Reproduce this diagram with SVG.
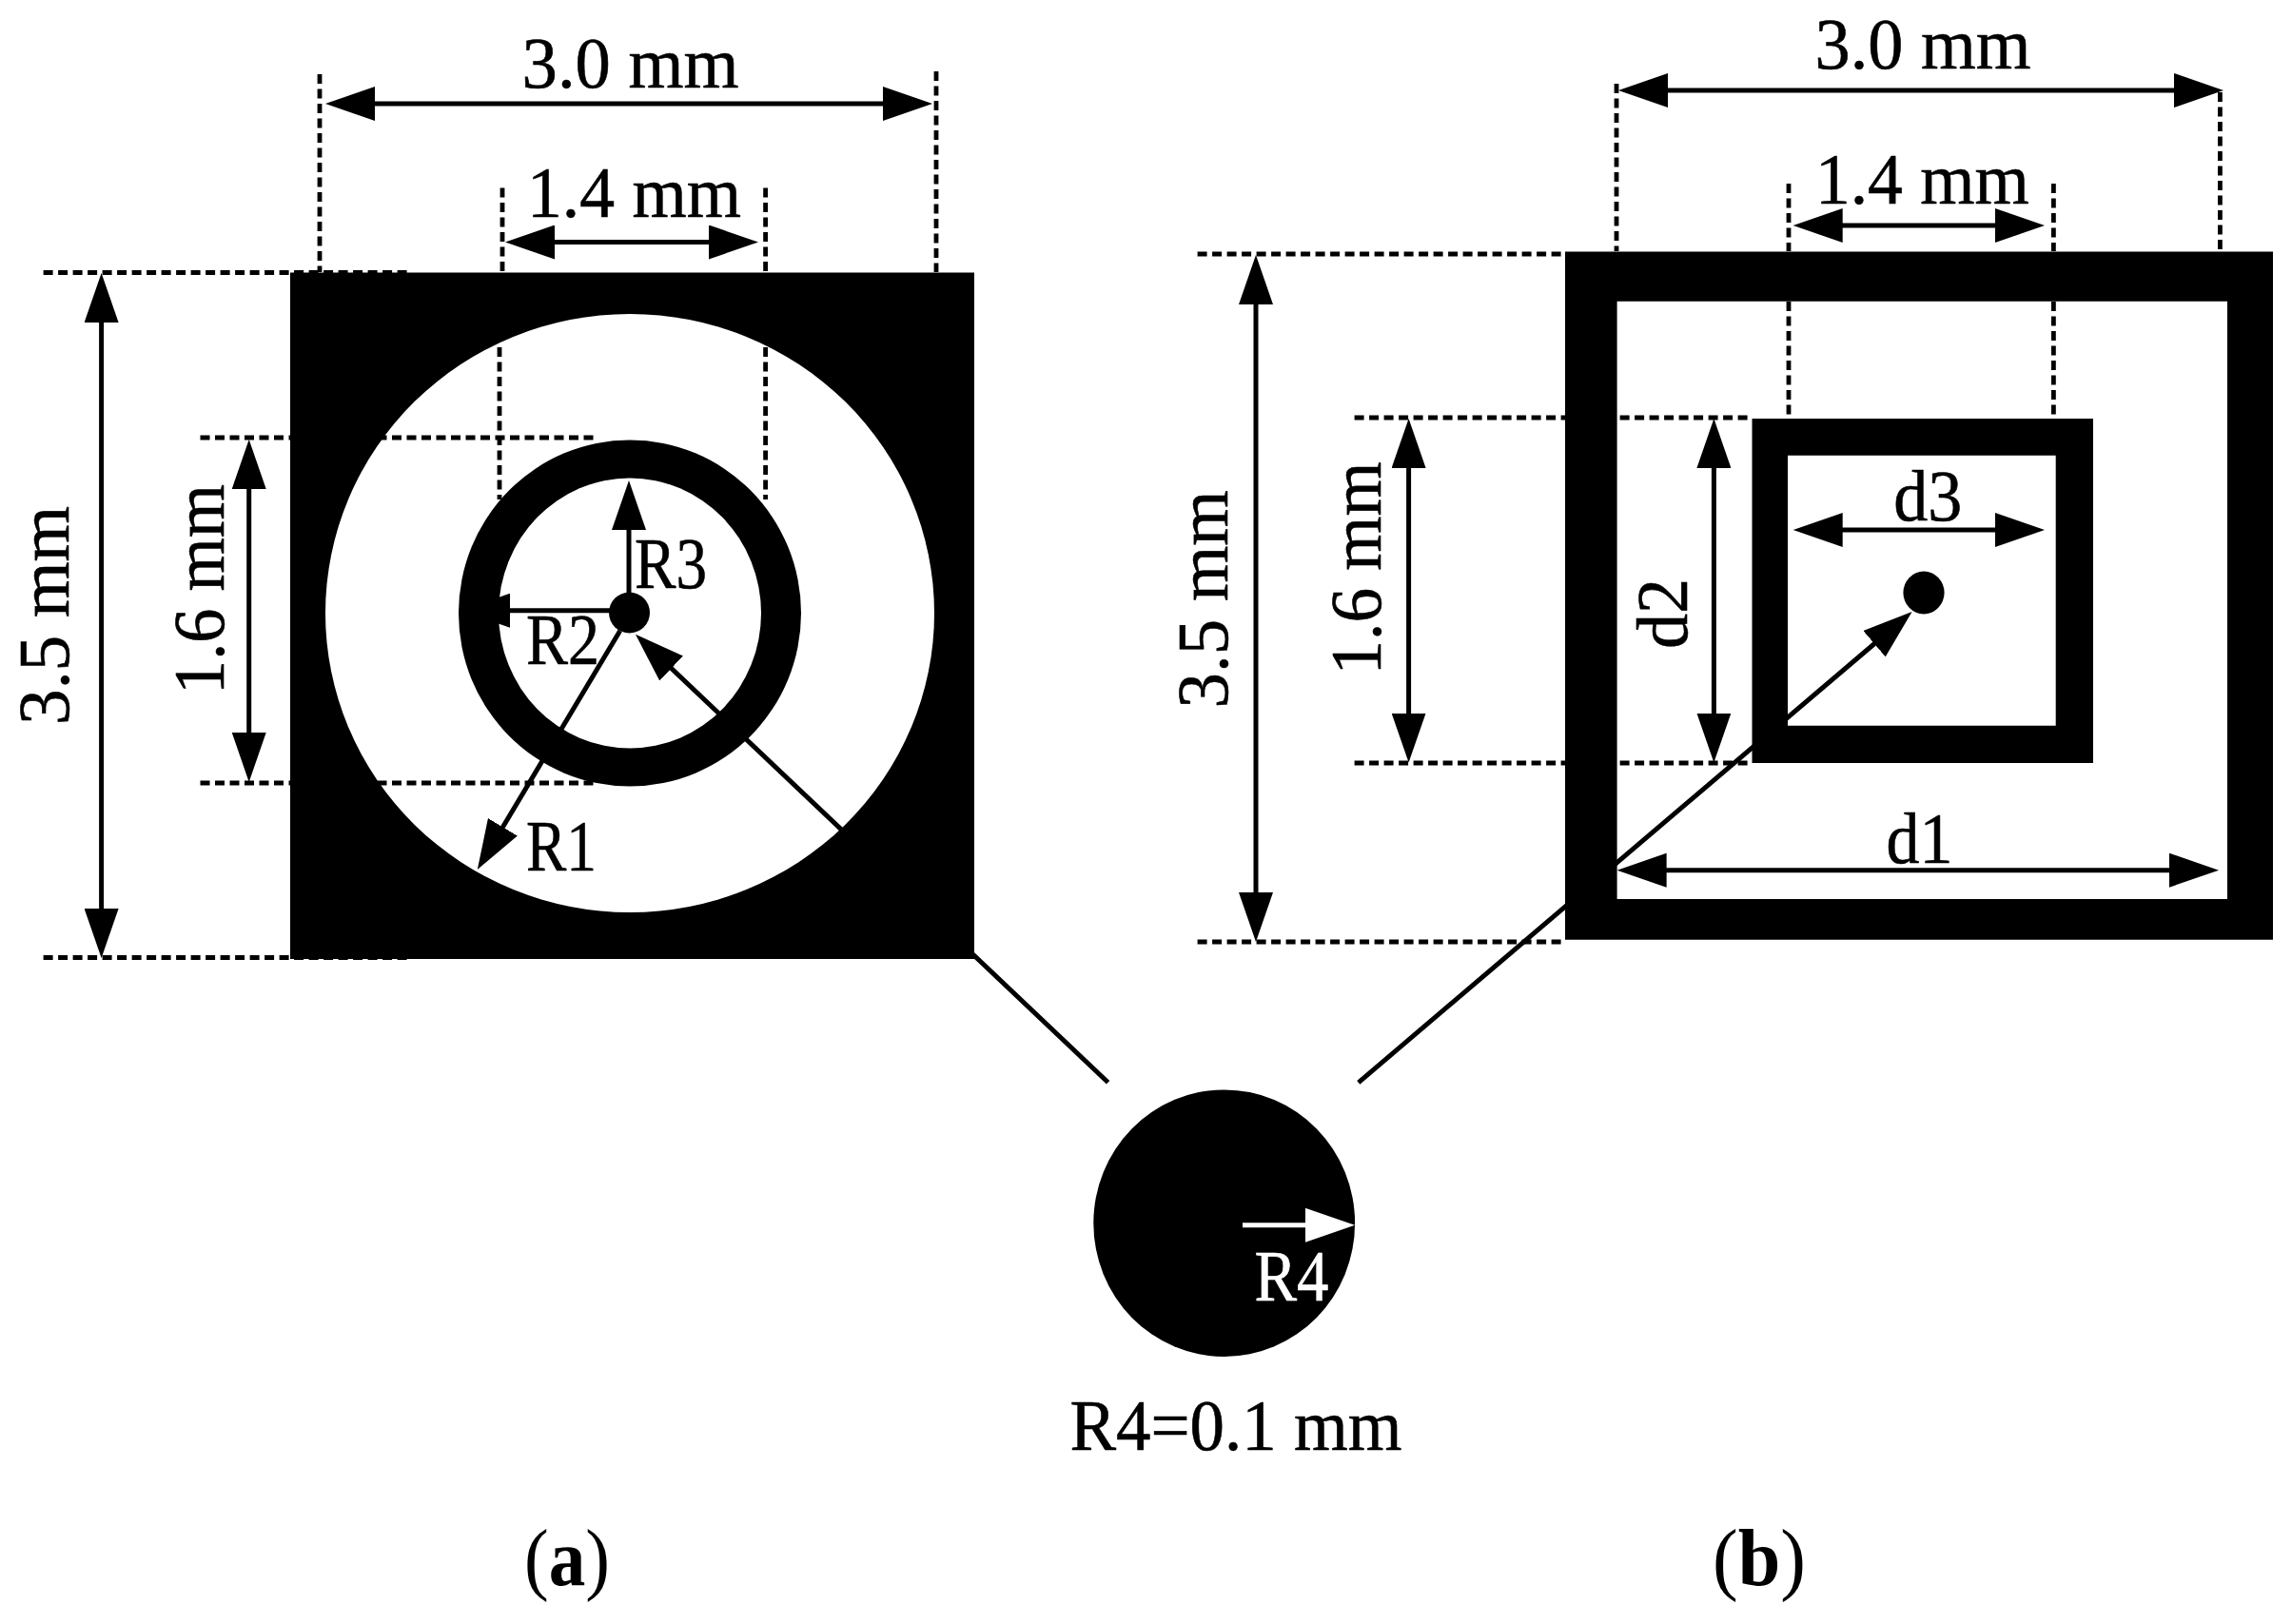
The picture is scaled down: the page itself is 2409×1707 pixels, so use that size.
<svg xmlns="http://www.w3.org/2000/svg" width="2409" height="1707" viewBox="0 0 2409 1707">
<style>
text{font-family:"Liberation Serif","Times New Roman",serif;font-size:76px;fill:#000;stroke:#000;stroke-width:.6}
.m{text-anchor:middle}
.w{fill:#fff;stroke:#fff}
.b{font-weight:bold}
.cap{font-size:84px;stroke-width:0}
.dim{stroke:#000;stroke-width:5;fill:none;marker-start:url(#hs);marker-end:url(#he)}
.one{stroke:#000;stroke-width:5;fill:none;marker-end:url(#he)}
.dash{stroke:#000;stroke-width:4.8;fill:none;stroke-dasharray:10 5.5}
.plain{stroke:#000;stroke-width:5;fill:none;stroke-linecap:round}
</style>
<defs>
<marker id="he" markerUnits="userSpaceOnUse" markerWidth="54" markerHeight="36" refX="42" refY="18" orient="auto"><path d="M0,0L52,18L0,36z" fill="#000"/></marker>
<marker id="hs" markerUnits="userSpaceOnUse" markerWidth="54" markerHeight="36" refX="42" refY="18" orient="auto-start-reverse"><path d="M0,0L52,18L0,36z" fill="#000"/></marker>
<marker id="hw" markerUnits="userSpaceOnUse" markerWidth="54" markerHeight="36" refX="42" refY="18" orient="auto"><path d="M0,0L52,18L0,36z" fill="#fff"/></marker>
</defs>
<rect width="2409" height="1707" fill="#fff"/>

<g id="node-a-plate">
<rect x="305" y="286.5" width="719" height="721.5" fill="#000"/>
<ellipse cx="662" cy="644.5" rx="320" ry="314.5" fill="#fff"/>
</g>
<g id="node-a-ring">
<ellipse cx="662" cy="644.5" rx="180" ry="182" fill="#000"/>
<ellipse cx="662" cy="644.5" rx="138" ry="142" fill="#fff"/>
</g>
<g id="node-a-dot"><ellipse cx="661.5" cy="644" rx="21.5" ry="21.5" fill="#000"/></g>

<g id="node-b-outer">
<path d="M1645,264.5H2389V987.7H1645zM1699.6,316.7V945H2341V316.7z" fill="#000" fill-rule="evenodd"/>
</g>
<g id="node-b-inner">
<path d="M1841.5,440H2200V802H1841.5zM1879,478.8V762.7H2160.7V478.8z" fill="#000" fill-rule="evenodd"/>
</g>
<g id="node-b-dot"><ellipse cx="2022" cy="623" rx="21.6" ry="22.4" fill="#000"/></g>

<g id="node-r4">
<ellipse cx="1286.7" cy="1285.7" rx="137.4" ry="140.3" fill="#000"/>
</g>

<g id="connectors">
<g id="dashes-a">
<path class="dash" d="M336,78V286M984,75V286M528,197.5V286M804.6,197.5V286M525,365V525M804.6,365V525"/>
<path class="dash" d="M45.6,286.5H428M45.6,1006.5H428M210.5,460H628M210.5,823H628"/>
</g>
<g id="dashes-b">
<path class="dash" d="M1699,88V264M2333.4,97V264M1880,193V264M2158.4,193V264M1880,317V440M2158.4,317V440"/>
<path class="dash" d="M1258.6,267H1645M1258.6,990H1645M1423.6,439H1841.5M1423.6,802H1841.5"/>
</g>
<g id="dims-a">
<line class="dim" x1="352" y1="109" x2="970" y2="109"/>
<line class="dim" x1="541" y1="254.5" x2="787" y2="254.5"/>
<line class="dim" x1="106.6" y1="297" x2="106.6" y2="997"/>
<line class="dim" x1="261.7" y1="472" x2="261.7" y2="812"/>
<line class="one" x1="661" y1="625" x2="661" y2="515"/>
<line class="one" x1="645" y1="641.7" x2="494" y2="641.7"/>
<line class="one" x1="651.7" y1="663" x2="506.9" y2="905.4"/>
<line class="one" x1="1164.6" y1="1137.8" x2="675.2" y2="673.6"/>
</g>
<g id="dims-b">
<line class="dim" x1="1711" y1="95" x2="2327" y2="95"/>
<line class="dim" x1="1894.7" y1="237" x2="2139" y2="237"/>
<line class="dim" x1="1320" y1="278" x2="1320" y2="980"/>
<line class="dim" x1="1480.6" y1="450" x2="1480.6" y2="791.6"/>
<line class="dim" x1="1801.4" y1="450" x2="1801.4" y2="791.6"/>
<line class="dim" x1="1894.7" y1="557" x2="2139" y2="557"/>
<line class="dim" x1="1709.6" y1="914.7" x2="2322" y2="914.7"/>
<line class="one" x1="1427.8" y1="1137.8" x2="2002" y2="649.5"/>
</g>
<line x1="1306" y1="1287.8" x2="1414" y2="1287.8" stroke="#fff" stroke-width="5" marker-end="url(#hw)"/>
</g>

<g id="labels">
<text class="m" x="662.6" y="92.4" textLength="228" lengthAdjust="spacingAndGlyphs">3.0 mm</text>
<text class="m" x="666.5" y="227.7" textLength="225" lengthAdjust="spacingAndGlyphs">1.4 mm</text>
<text class="m" transform="translate(72.3,647) rotate(-90)" textLength="230" lengthAdjust="spacingAndGlyphs">3.5 mm</text>
<text class="m" transform="translate(235,619.5) rotate(-90)" textLength="221" lengthAdjust="spacingAndGlyphs">1.6 mm</text>
<text x="553" y="915" textLength="74" lengthAdjust="spacingAndGlyphs">R1</text>
<text x="553" y="698" textLength="77" lengthAdjust="spacingAndGlyphs">R2</text>
<text x="667" y="618" textLength="76" lengthAdjust="spacingAndGlyphs">R3</text>
<text class="m" x="2021" y="72.3" textLength="227" lengthAdjust="spacingAndGlyphs">3.0 mm</text>
<text class="m" x="2020.4" y="214.3" textLength="225" lengthAdjust="spacingAndGlyphs">1.4 mm</text>
<text class="m" transform="translate(1290,630) rotate(-90)" textLength="229" lengthAdjust="spacingAndGlyphs">3.5 mm</text>
<text class="m" transform="translate(1450.6,597.6) rotate(-90)" textLength="224" lengthAdjust="spacingAndGlyphs">1.6 mm</text>
<text class="m" transform="translate(1772.9,645) rotate(-90)" textLength="74" lengthAdjust="spacingAndGlyphs">d2</text>
<text x="1990.3" y="547" textLength="72" lengthAdjust="spacingAndGlyphs">d3</text>
<text x="1982.6" y="907.4" textLength="70" lengthAdjust="spacingAndGlyphs">d1</text>
<text class="w" x="1318.4" y="1366.6" textLength="78" lengthAdjust="spacingAndGlyphs">R4</text>
<text x="1124.4" y="1523.5" textLength="349" lengthAdjust="spacingAndGlyphs">R4=0.1 mm</text>
<text class="cap" x="551" y="1666" textLength="90" lengthAdjust="spacingAndGlyphs">(<tspan class="b">a</tspan>)</text>
<text class="cap" x="1800" y="1666" textLength="98" lengthAdjust="spacingAndGlyphs">(<tspan class="b">b</tspan>)</text>
</g>
</svg>
